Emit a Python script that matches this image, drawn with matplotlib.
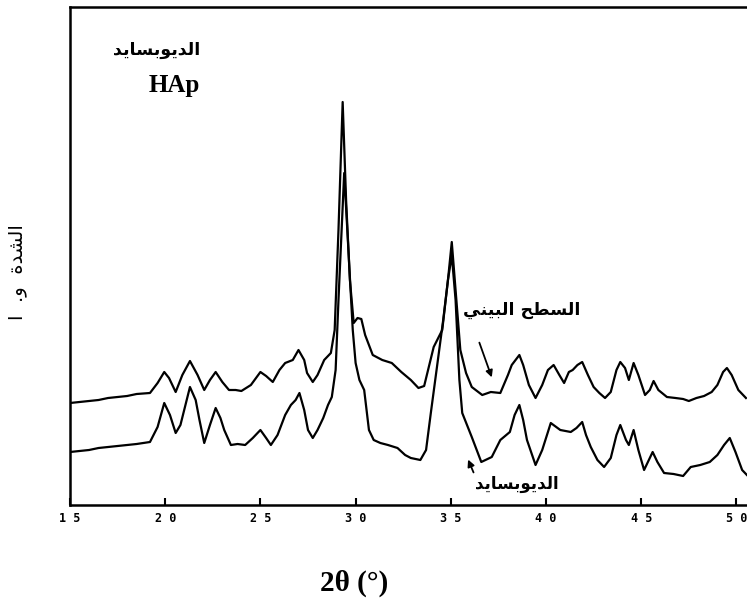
import matplotlib
matplotlib.use("Agg")
import matplotlib.pyplot as plt

# ---- data (2theta in degrees, intensity in arbitrary units) ----
interface_x = [15.0, 15.5, 16.0, 16.5, 17.0, 17.5, 18.0, 18.5, 19.2, 19.6, 19.95, 20.2, 20.55, 20.9,
               21.3, 21.7, 22.05, 22.35, 22.65, 23.0, 23.35, 23.7, 24.0, 24.5, 25.0, 25.3, 25.65,
               26.0, 26.3, 26.7, 27.0, 27.3, 27.45, 27.75, 28.0, 28.35, 28.7, 28.9, 29.1, 29.32,
               29.5, 29.7, 29.9, 30.1, 30.3, 30.5, 30.9, 31.4, 31.9, 32.4, 32.9, 33.3, 33.6, 34.1,
               34.55, 34.85, 35.05, 35.25, 35.5, 35.8, 36.1, 36.65, 37.1, 37.6, 38.0, 38.2, 38.6,
               38.8, 39.1, 39.45, 39.8, 40.1, 40.4, 40.7, 40.95, 41.2, 41.4, 41.65, 41.9, 42.2,
               42.5, 42.8, 43.1, 43.4, 43.7, 43.9, 44.15, 44.35, 44.6, 44.85, 45.2, 45.45, 45.65,
               45.9, 46.35, 46.8, 47.2, 47.5, 47.9, 48.3, 48.7, 49.0, 49.3, 49.5, 49.75, 50.1, 50.5]
interface_y = [102, 103, 104, 105, 107, 108, 109, 111, 112, 122, 133, 127, 113, 130,
               144, 130, 115, 125, 133, 123, 115, 115, 114, 120, 133, 129, 123,
               135, 142, 145, 155, 145, 132, 123, 130, 145, 152, 175, 275, 403,
               305, 225, 182, 187, 186, 170, 150, 145, 142, 133, 125, 117, 119, 158,
               175, 225, 263, 215, 155, 132, 118, 110, 113, 112, 130, 140, 150,
               140, 120, 107, 120, 135, 140, 130, 122, 133, 135, 140, 143, 130,
               118, 112, 107, 113, 135, 143, 137, 125, 142, 130, 110, 115, 124,
               115, 108, 107, 106, 104, 107, 109, 113, 120, 133, 137, 130, 115, 107]

diopside_x = [15.0, 15.5, 16.0, 16.5, 17.0, 17.5, 18.0, 18.5, 19.2, 19.6, 19.95, 20.25, 20.55, 20.8,
              21.3, 21.6, 21.8, 22.05, 22.35, 22.65, 22.9, 23.1, 23.45, 23.8, 24.2, 24.6, 25.0,
              25.3, 25.55, 25.9, 26.3, 26.6, 26.85, 27.05, 27.3, 27.5, 27.75, 28.0, 28.3, 28.55,
              28.75, 28.95, 29.1, 29.4, 29.65, 29.85, 30.0, 30.2, 30.45, 30.7, 30.95, 31.3, 31.7,
              32.2, 32.6, 32.9, 33.4, 33.7, 33.95, 34.3, 34.6, 34.85, 35.05, 35.25, 35.45, 35.6,
              36.1, 36.6, 37.15, 37.6, 38.1, 38.35, 38.6, 38.8, 39.0, 39.45, 39.8, 40.25, 40.75,
              41.3, 41.6, 41.9, 42.1, 42.35, 42.7, 43.05, 43.4, 43.7, 43.9, 44.2, 44.35, 44.6,
              44.85, 45.15, 45.35, 45.6, 45.85, 46.2, 46.7, 47.2, 47.6, 48.1, 48.6, 49.0, 49.35,
              49.65, 49.95, 50.3, 50.55]
diopside_y = [53, 54, 55, 57, 58, 59, 60, 61, 63, 78, 102, 90, 72, 80,
              118, 105, 85, 62, 80, 97, 87, 75, 60, 61, 60, 67, 75,
              67, 60, 70, 90, 100, 105, 112, 95, 75, 67, 75, 87, 100,
              108, 135, 205, 332, 245, 175, 142, 125, 115, 75, 65, 62, 60,
              57, 50, 47, 45, 55, 92, 142, 185, 225, 250, 205, 125, 92,
              68, 43, 48, 65, 73, 90, 100, 85, 65, 40, 55, 82, 75,
              73, 77, 83, 70, 58, 45, 38, 47, 70, 80, 65, 60, 75,
              55, 35, 43, 53, 43, 32, 31, 29, 38, 40, 43, 50, 60,
              67, 53, 35, 30]

xticks = [15, 20, 25, 30, 35, 40, 45, 50]
xtick_labels = ["1 5", "2 0", "2 5", "3 0", "3 5", "4 0", "4 5", "5 0"]

# Arabic text pre-shaped (presentation forms, visual order) since matplotlib has no shaping
lbl_diopside = "\uFEAA\uFEF3\uFE8E\uFEB4\uFE91\uFEEE\uFEF3\uFEAA\uFEDF\uFE8D"          # الديوبسايد
lbl_interface = "\uFEF2\uFEE8\uFEF4\uFE92\uFEDF\uFE8D \uFEA2\uFEC4\uFEB4\uFEDF\uFE8D"  # السطح البيني
lbl_y = "\uFE8D  .\uFEED  \uFE93\uFEAA\uFEB8\uFEDF\uFE8D"                              # الشدة و. ا

W, H = 747, 603
fig = plt.figure(figsize=(W / 100, H / 100), dpi=100)
ax = fig.add_axes([70 / W, (H - 505) / H, 1.0 - 70 / W + 0.02, (505 - 7) / H])

ax.plot(interface_x, interface_y, color="black", lw=1.6, solid_joinstyle="round")
ax.plot(diopside_x, diopside_y, color="black", lw=1.6, solid_joinstyle="round")

ax.set_xlim(15, 15 + (W + 15 - 69) / 19.07)
ax.set_ylim(0, 498)
ax.spines["right"].set_visible(False)
for s in ["left", "top", "bottom"]:
    ax.spines[s].set_linewidth(1.8)
ax.set_yticks([])
ax.set_xticks(xticks)
ax.set_xticklabels(xtick_labels, family="DejaVu Sans Mono", fontweight="bold", fontsize=8.5)
ax.tick_params(axis="x", direction="in", length=5, width=1.5, pad=5)

# annotations
ax.text(0.188, 0.914, lbl_diopside, transform=ax.transAxes, family="DejaVu Sans",
        fontweight="bold", fontsize=12.5, ha="right", va="center")
ax.text(0.188, 0.842, "HAp", transform=ax.transAxes, family="Liberation Serif",
        fontweight="bold", fontsize=18, ha="right", va="center")

ax.text(38.7, 505 - 310, lbl_interface, family="DejaVu Sans", fontweight="bold",
        fontsize=12.5, ha="center", va="center")
ax.annotate("", xy=(37.2, 505 - 380), xytext=(36.45, 505 - 340),
            arrowprops=dict(arrowstyle="-|>", color="black", lw=1.3, mutation_scale=10))

ax.text(38.45, 505 - 484, lbl_diopside, family="DejaVu Sans", fontweight="bold",
        fontsize=12, ha="center", va="center")
ax.annotate("", xy=(35.85, 505 - 457), xytext=(36.25, 505 - 475),
            arrowprops=dict(arrowstyle="-|>", color="black", lw=1.3, mutation_scale=10))

fig.text(18 / W, 1 - 272 / H, lbl_y, rotation=90, family="DejaVu Sans",
         fontsize=14, ha="center", va="center")
fig.text(354 / W, 1 - 583 / H, "2θ (°)", family="Liberation Serif", fontweight="bold",
         fontsize=21, ha="center", va="center")

fig.savefig("out.png", dpi=100)
